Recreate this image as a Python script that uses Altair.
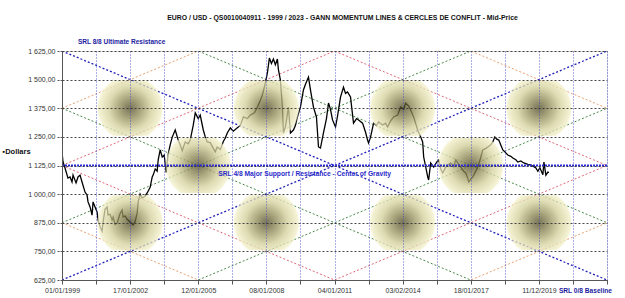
import altair as alt
import pandas as pd

# ---------------- data ----------------
x_labels = ["01/01/1999", "17/01/2002", "12/01/2005", "08/01/2008",
            "04/01/2011", "03/02/2014", "18/01/2017", "11/12/2019"]
y_ticks = [625, 750, 875, 1000, 1125, 1250, 1375, 1500, 1625]
x_ticks = [i * 0.5 for i in range(17)]

# price series: position in axis periods (one period per labelled tick) and mid-price
t_vals = [0.000, 0.015, 0.044, 0.088, 0.118, 0.147, 0.162, 0.206, 0.235, 0.265,
          0.294, 0.338, 0.368, 0.382, 0.412, 0.441, 0.456, 0.485, 0.515, 0.529,
          0.559, 0.588, 0.603, 0.632, 0.662, 0.676, 0.706, 0.735, 0.750, 0.779,
          0.809, 0.853, 0.882, 0.897, 0.926, 0.956, 1.000, 1.044, 1.074, 1.103,
          1.118, 1.147, 1.176, 1.221, 1.250, 1.294, 1.324, 1.338, 1.368, 1.397,
          1.412, 1.441, 1.471, 1.500, 1.529, 1.559, 1.588, 1.618, 1.662, 1.706,
          1.735, 1.765, 1.809, 1.853, 1.882, 1.926, 1.956, 2.000, 2.029, 2.074,
          2.103, 2.132, 2.176, 2.221, 2.250, 2.279, 2.324, 2.368, 2.397, 2.426,
          2.471, 2.515, 2.574, 2.618, 2.662, 2.721, 2.765, 2.824, 2.868, 2.912,
          2.941, 2.985, 3.015, 3.044, 3.074, 3.103, 3.132, 3.162, 3.176, 3.206,
          3.235, 3.250, 3.279, 3.309, 3.324, 3.353, 3.397, 3.426, 3.456, 3.500,
          3.544, 3.574, 3.618, 3.647, 3.691, 3.735, 3.765, 3.794, 3.838, 3.882,
          3.912, 3.941, 3.971, 4.015, 4.044, 4.088, 4.132, 4.162, 4.191, 4.235,
          4.279, 4.324, 4.353, 4.412, 4.456, 4.485, 4.500, 4.529, 4.574, 4.618,
          4.647, 4.706, 4.750, 4.779, 4.824, 4.868, 4.926, 4.971, 5.015, 5.044,
          5.088, 5.118, 5.162, 5.221, 5.265, 5.294, 5.309, 5.338, 5.368, 5.382,
          5.412, 5.456, 5.500, 5.529, 5.559, 5.588, 5.632, 5.676, 5.706, 5.750,
          5.779, 5.824, 5.853, 5.897, 5.926, 5.956, 5.971, 6.000, 6.029, 6.074,
          6.103, 6.147, 6.176, 6.221, 6.250, 6.294, 6.324, 6.353, 6.382, 6.412,
          6.441, 6.471, 6.515, 6.544, 6.588, 6.618, 6.662, 6.691, 6.735, 6.779,
          6.838, 6.882, 6.926, 6.956, 6.985, 7.015, 7.029, 7.059, 7.074, 7.103,
          7.132, 7.147]
price = [1185, 1140, 1114, 1070, 1075, 1053, 1083, 1049, 1075, 1083,
         1053, 1009, 996, 966, 944, 908, 966, 944, 922, 887,
         858, 838, 878, 935, 944, 909, 912, 887, 900, 868,
         874, 915, 931, 900, 905, 890, 878, 865, 880, 918,
         966, 1000, 983, 992, 1005, 1030, 1075, 1083, 1110, 1100,
         1150, 1193, 1162, 1170, 1095, 1175, 1215, 1249, 1280, 1236,
         1215, 1190, 1228, 1220, 1236, 1300, 1355, 1330, 1345, 1280,
         1250, 1228, 1225, 1200, 1185, 1206, 1195, 1230, 1245, 1267,
         1289, 1275, 1290, 1300, 1337, 1330, 1345, 1355, 1380, 1410,
         1433, 1485, 1529, 1594, 1570, 1590, 1565, 1590, 1545, 1498,
         1380, 1267, 1293, 1350, 1380, 1267, 1280, 1300, 1337, 1380,
         1455, 1480, 1511, 1455, 1380, 1337, 1206, 1201, 1267, 1330,
         1398, 1370, 1324, 1293, 1340, 1424, 1467, 1440, 1446, 1424,
         1310, 1330, 1324, 1310, 1270, 1236, 1223, 1249, 1310, 1300,
         1315, 1302, 1310, 1293, 1320, 1337, 1345, 1380, 1370, 1398,
         1385, 1367, 1337, 1280, 1250, 1228, 1162, 1120, 1075, 1062,
         1136, 1118, 1140, 1149, 1110, 1092, 1118, 1130, 1136, 1120,
         1149, 1130, 1118, 1100, 1092, 1070, 1053, 1065, 1075, 1100,
         1118, 1160, 1193, 1200, 1206, 1215, 1228, 1250, 1240, 1236,
         1215, 1193, 1180, 1171, 1165, 1158, 1150, 1140, 1145, 1136,
         1130, 1127, 1120, 1114, 1100, 1115, 1105, 1085, 1140, 1083,
         1096, 1094]

# Gann momentum lines (value at the left edge; slope one level per period)
down_starts = [875, 1125, 1375, 1625, 1875, 2125, 2375]
up_starts = [-125, 125, 375, 625, 875, 1125, 1375]
line_kinds = ["orange", "red", "green", "blue", "green", "red", "orange"]

# circles of conflict (centres)
circle_t = [1, 3, 5, 7, 2, 6, 1, 3, 5, 7]
circle_v = [1375, 1375, 1375, 1375, 1125, 1125, 875, 875, 875, 875]

center_level = 1125
top_level = 1625
bottom_level = 625

# ---------------- chart ----------------
FONT = "Liberation Sans"
X_MAX = 8

xs = alt.Scale(domain=[0, X_MAX], nice=False, zero=False)
ys = alt.Scale(domain=[bottom_level, top_level], nice=False, zero=False)

label_arr = "[" + ",".join("'" + s + "'" for s in x_labels) + "]"
x_label_expr = ("(datum.value % 1 == 0 && datum.value < " + str(len(x_labels)) + ") ? "
                + label_arr + "[datum.value] : ''")
x_axis = alt.Axis(
    values=x_ticks, tickCount=40, title=None, grid=True, gridColor="#4040d0", gridDash=[1, 2],
    gridWidth=1, gridOpacity=0.85,
    labelExpr=x_label_expr,
    labelFont=FONT, labelFontSize=7, labelColor="#333", labelPadding=2,
    tickSize=4, tickColor="#555", domainColor="#555", labelFlush=False, labelOverlap=False,
    zindex=1,
)
y_axis = alt.Axis(
    values=y_ticks, tickCount=40, title="\u25aaDollars", titleAngle=0, titleX=-60, titleY=100,
    titleAlign="left", titleBaseline="middle", titleFont=FONT, titleFontSize=7.5,
    titleFontWeight="bold", titleColor="#111",
    grid=True, gridColor="#333", gridDash=[2, 2], gridWidth=1, gridOpacity=0.9,
    labelExpr="replace(replace(format(datum.value, ',.2f'), ',', ' '), '.', ',')",
    labelFont=FONT, labelFontSize=7, labelColor="#333", labelPadding=2, labelOverlap=False,
    tickSize=5, tickColor="#555", tickDash=[2, 1], domainColor="#555", zindex=1,
)

color_scale = alt.Scale(domain=["blue", "red", "green", "orange"],
                        range=["#2020b8", "#e06878", "#4a8a4a", "#e8a070"])

gann = pd.DataFrame({
    "x": [0] * 14, "x2": [X_MAX] * 14,
    "y": down_starts + up_starts,
    "y2": [v - 125 * X_MAX for v in down_starts] + [v + 125 * X_MAX for v in up_starts],
    "kind": line_kinds + line_kinds,
})
gann["w"] = gann["kind"].map(lambda k: 1.3 if k == "blue" else 1.0)

gann_layer = alt.Chart(gann).mark_rule(strokeDash=[2, 2], clip=True).encode(
    x=alt.X("x:Q", scale=xs, axis=x_axis),
    x2="x2:Q",
    y=alt.Y("y:Q", scale=ys, axis=y_axis),
    y2="y2:Q",
    color=alt.Color("kind:N", scale=color_scale, legend=None),
    strokeWidth=alt.StrokeWidth("w:Q", scale=None, legend=None),
)

price_df = pd.DataFrame({"t": t_vals, "v": price})
price_layer = alt.Chart(price_df).mark_line(color="#000", strokeWidth=1.3, clip=True).encode(
    x=alt.X("t:Q", scale=xs), y=alt.Y("v:Q", scale=ys)
)

circles = pd.DataFrame({"t": circle_t, "v": circle_v})
grad = alt.RadialGradient(
    gradient="radial",
    stops=[
        alt.GradientStop(offset=0, color="#4a4520"),
        alt.GradientStop(offset=0.3, color="#8a8550"),
        alt.GradientStop(offset=0.65, color="#d2cf98"),
        alt.GradientStop(offset=0.96, color="#f2f0c8"),
        alt.GradientStop(offset=1, color="rgba(242,240,200,0)"),
    ],
    x1=0.5, y1=0.5, r1=0, x2=0.5, y2=0.5, r2=0.5,
)
circle_layer = alt.Chart(circles).transform_calculate(
    x0="datum.t - 0.485", x1="datum.t + 0.485",
    y0="datum.v - 120", y1="datum.v + 120",
).mark_rect(fill=grad, opacity=0.75, strokeWidth=0).encode(
    x=alt.X("x0:Q", scale=xs), x2="x1:Q",
    y=alt.Y("y0:Q", scale=ys), y2="y1:Q",
)

center_layer = alt.Chart(pd.DataFrame({"v": [center_level]})).mark_rule(
    color="#2a2ad8", strokeWidth=2, strokeDash=[2, 1]
).encode(y=alt.Y("v:Q", scale=ys), x=alt.value(0), x2=alt.value(545))

texts = pd.DataFrame({
    "t": [0.235, 2.294, 7.294],
    "v": [1664, 1088, 577],
    "label": ["SRL 8/8 Ultimate Resistance",
              "SRL 4/8 Major Support / Resistance - Center of Gravity",
              "SRL 0/8 Baseline"],
    "c": ["#1c1ca0", "#2a2ac8", "#1c1ca0"],
    "fs": [6.5, 6.7, 6.6],
})
text_layer = alt.Chart(texts).mark_text(
    align="left", baseline="middle", font=FONT, fontWeight="bold"
).encode(
    x=alt.X("t:Q", scale=xs), y=alt.Y("v:Q", scale=ys),
    text="label:N", color=alt.Color("c:N", scale=None),
    size=alt.Size("fs:Q", scale=None, legend=None),
)

title = alt.TitleParams(
    text="EURO / USD -  QS0010040911 - 1999 / 2023 -   GANN MOMENTUM LINES & CERCLES DE CONFLIT - Mid-Price",
    font=FONT, fontSize=6.9, fontWeight="bold", color="#111", anchor="middle", dx=8, offset=17,
)

chart = alt.layer(gann_layer, price_layer, circle_layer, center_layer, text_layer).properties(
    width=545, height=229, title=title,
    autosize=alt.AutoSizeParams(type="none"),
    padding={"left": 62, "top": 51, "right": 18, "bottom": 18},
).configure_view(fill="#c0c0c0", stroke="#4848b0", strokeWidth=1).configure(
    background="#ffffff"
)

chart.save("out.html", embed_options={"renderer": "svg", "actions": False})
